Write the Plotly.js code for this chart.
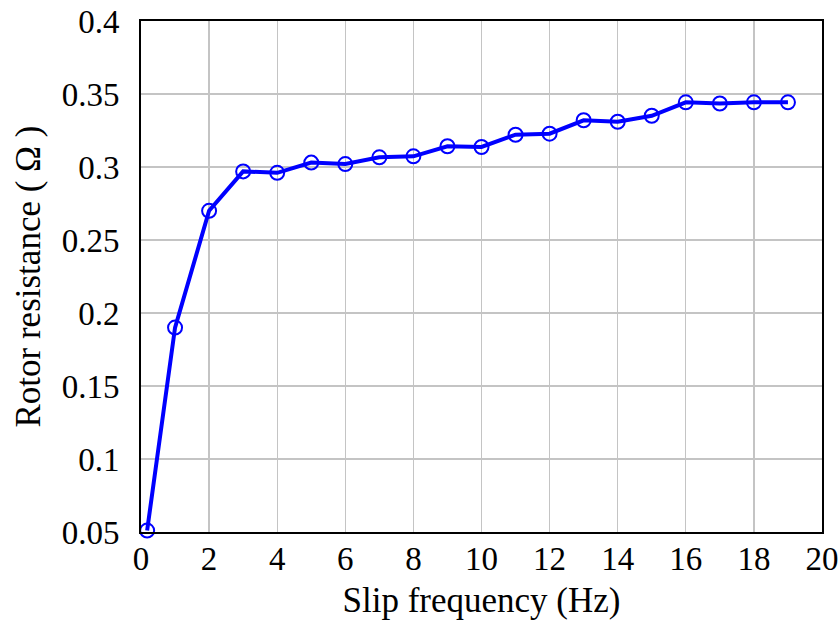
<!DOCTYPE html>
<html>
<head>
<meta charset="utf-8">
<script src="https://cdn.plot.ly/plotly-3.0.1.min.js"></script>
<style>html,body{margin:0;padding:0;background:#fff;}#plot{width:840px;height:626px;}</style>
</head>
<body>
<div id="plot"></div>
<script>
var slipFrequency = [0.18, 1, 2, 3, 4, 5, 6, 7, 8, 9, 10, 11, 12, 13, 14, 15, 16, 17, 18, 19];
var rotorResistance = [0.051, 0.190, 0.270, 0.297, 0.296, 0.303, 0.302, 0.3066, 0.3073, 0.3142, 0.3137, 0.3221, 0.3228, 0.3320, 0.3310, 0.3351, 0.3443, 0.3435, 0.3443, 0.3443];
var xTicks = [0, 2, 4, 6, 8, 10, 12, 14, 16, 18, 20];
var yTicks = [0.05, 0.1, 0.15, 0.2, 0.25, 0.3, 0.35, 0.4];
var yTickText = ['0.05', '0.1', '0.15', '0.2', '0.25', '0.3', '0.35', '0.4'];

var trace = {
  x: slipFrequency,
  y: rotorResistance,
  type: 'scatter',
  mode: 'lines+markers',
  line: {color: '#0000ff', width: 4},
  marker: {symbol: 'circle-open', size: 14, color: '#0000ff', line: {width: 2, color: '#0000ff'}},
  cliponaxis: false,
  hoverinfo: 'x+y'
};

var FAMILY = 'Liberation Serif, Times New Roman, serif';
function mkFont(size) { return {family: FAMILY, size: size, color: '#000'}; }

var layout = {
  width: 840,
  height: 626,
  margin: {l: 141, r: 18, t: 21, b: 94},
  paper_bgcolor: '#fff',
  plot_bgcolor: '#fff',
  showlegend: false,
  font: mkFont(33),
  xaxis: {
    range: [0, 20],
    tickvals: xTicks,
    ticktext: xTicks.map(String),
    showgrid: true,
    gridcolor: '#c4c4c4',
    gridwidth: 1.3,
    zeroline: false,
    showline: true,
    linecolor: '#000',
    linewidth: 2,
    mirror: true,
    ticks: '',
    ticklabelstandoff: -4,
    tickfont: mkFont(33),
    title: {text: 'Slip frequency (Hz)', font: mkFont(35), standoff: 12}
  },
  yaxis: {
    range: [0.05, 0.4],
    tickvals: yTicks,
    ticktext: yTickText,
    showgrid: true,
    gridcolor: '#c4c4c4',
    gridwidth: 1.3,
    zeroline: false,
    showline: true,
    linecolor: '#000',
    linewidth: 2,
    mirror: true,
    ticks: 'outside',
    ticklen: 13,
    tickcolor: 'rgba(0,0,0,0)',
    tickfont: mkFont(33),
    title: {text: 'Rotor resistance ( Ω )', font: mkFont(35), standoff: 10}
  }
};

Plotly.newPlot('plot', [trace], layout, {displayModeBar: false, staticPlot: true});
</script>
</body>
</html>
